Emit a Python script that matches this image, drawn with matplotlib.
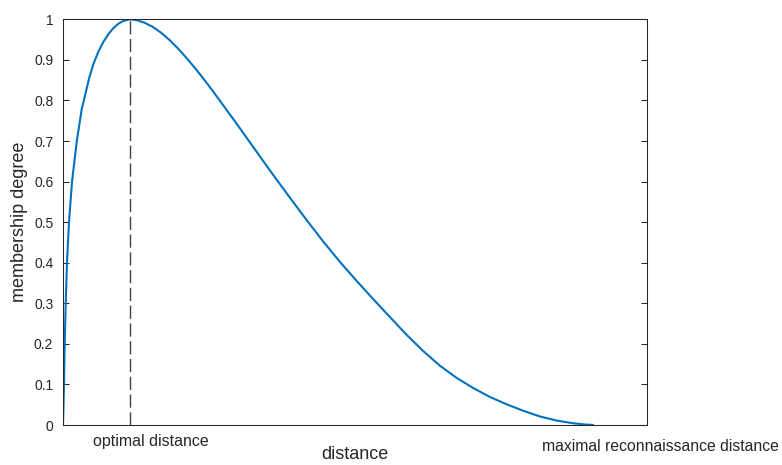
import matplotlib
matplotlib.use("Agg")
import matplotlib.pyplot as plt

# normalised distance (maximal reconnaissance distance = 1)
distance = [0.0, 0.0019, 0.0032, 0.0051, 0.0075, 0.0113, 0.0170, 0.0260, 0.0352,
            0.0495, 0.0571, 0.0665, 0.0759, 0.0853, 0.0947, 0.1042, 0.1136, 0.1262,
            0.1388, 0.1545, 0.1695, 0.1846, 0.2015, 0.2166, 0.2317, 0.2486, 0.2643,
            0.2788, 0.2957, 0.3146, 0.3334, 0.3649, 0.3961, 0.4276, 0.4590, 0.4903,
            0.5217, 0.5532, 0.5845, 0.6159, 0.6474, 0.6787, 0.7101, 0.7416, 0.7728,
            0.8043, 0.8357, 0.8670, 0.8985, 0.9299, 0.9612, 0.9832, 1.0]
membership = [0.0, 0.10, 0.20, 0.30, 0.40, 0.50, 0.60, 0.70, 0.778,
              0.856, 0.889, 0.920, 0.944, 0.963, 0.978, 0.989, 0.996, 1.0,
              0.998, 0.991, 0.981, 0.967, 0.948, 0.928, 0.906, 0.880, 0.854,
              0.829, 0.799, 0.765, 0.731, 0.673, 0.616, 0.560, 0.505, 0.452,
              0.402, 0.355, 0.310, 0.266, 0.222, 0.182, 0.146, 0.116, 0.091,
              0.069, 0.051, 0.035, 0.021, 0.011, 0.0042, 0.0012, 0.0]
optimal_distance = 0.1262
x_limits = [0, 1.1]
y_ticks = [0, 0.1, 0.2, 0.3, 0.4, 0.5, 0.6, 0.7, 0.8, 0.9, 1.0]
y_tick_labels = ["0", "0.1", "0.2", "0.3", "0.4", "0.5", "0.6", "0.7", "0.8", "0.9", "1"]

plt.rcParams['font.family'] = ['Liberation Sans', 'DejaVu Sans']
dark = '#262626'

fig = plt.figure(figsize=(7.82, 4.65), dpi=100)
ax = fig.add_axes([63/782, 40/465, 584/782, 405.7/465])

ax.plot(distance, membership, color='#0072BD', lw=1.5, solid_capstyle='butt',
        solid_joinstyle='round')
ax.plot([optimal_distance, optimal_distance], [0, 1], color='#404040', lw=1.0,
        dashes=(9.5, 3.3))

ax.set_xlim(x_limits)
ax.set_ylim(0, 1)
ax.set_xticks([])
ax.set_yticks(y_ticks)
ax.set_yticklabels(y_tick_labels)
ax.tick_params(axis='y', which='both', direction='in', length=4.5, width=0.75,
               color=dark, labelcolor=dark, labelsize=10, pad=7, right=True)
for s in ax.spines.values():
    s.set_color(dark)
    s.set_linewidth(0.75)

ax.text(0.0565, -0.0517, 'optimal distance', ha='left', va='baseline',
        fontsize=11.5, color=dark)
ax.text(0.9022, -0.064, 'maximal reconnaissance distance', ha='left', va='baseline',
        fontsize=11.3, color=dark)

ax.set_xlabel('distance', fontsize=13, color=dark, labelpad=15)
ax.set_ylabel('membership degree', fontsize=13, color=dark, labelpad=4)

fig.savefig('out.png', dpi=100)
